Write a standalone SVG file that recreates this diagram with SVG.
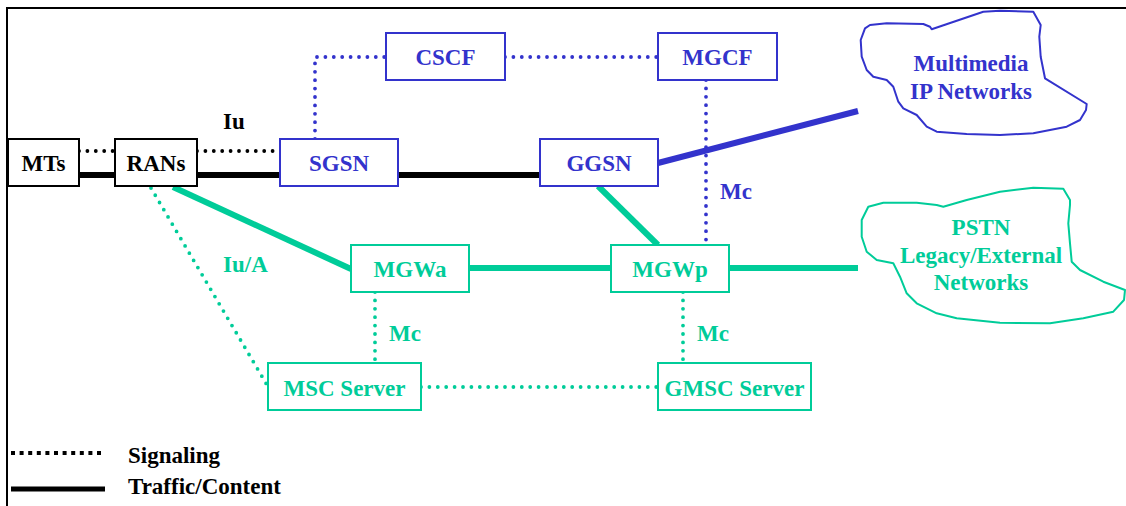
<svg xmlns="http://www.w3.org/2000/svg" width="1126" height="506" viewBox="0 0 1126 506">
<style>
text{font-family:"Liberation Serif","Times New Roman",serif;font-weight:bold;font-size:23px;text-anchor:middle}
.k{fill:#000}.b{fill:#3333CC}.g{fill:#00CC99}
.box{fill:#fff;stroke-width:2}
.bk{stroke:#000}.bb{stroke:#3333CC}.bg{stroke:#00CC99}
.dot{fill:none;stroke-width:3.8;stroke-dasharray:0 8.4;stroke-linecap:round}
.thick{fill:none;stroke-width:6}
.cloud{fill:#fff;stroke-width:2;stroke-linejoin:round}
.lab{text-anchor:start}
</style>
<rect x="0" y="0" width="1126" height="506" fill="#fff"/>
<path d="M7,506 V8 H1126" fill="none" stroke="#000" stroke-width="2"/>
<g id="connectors">
<line class="dot bk" x1="79" y1="151" x2="115" y2="151"/>
<line class="dot bk" x1="197" y1="151" x2="280" y2="151"/>
<line class="thick bk" x1="79" y1="175" x2="115" y2="175" stroke-width="5"/>
<line class="thick bk" x1="197" y1="175" x2="280" y2="175" stroke-width="5"/>
<line class="thick bk" x1="398" y1="175" x2="540" y2="175" stroke-width="5"/>
<polyline class="dot bb" points="315,139 315,57 386,57"/>
<line class="dot bb" x1="505" y1="57" x2="658" y2="57"/>
<line class="dot bb" x1="706" y1="80" x2="706" y2="244"/>
<line class="thick bb" x1="658" y1="163" x2="858" y2="111"/>
<line class="thick bg" x1="173" y1="187" x2="351" y2="269"/>
<line class="thick bg" x1="598" y1="186" x2="658" y2="245"/>
<line class="thick bg" x1="469" y1="268" x2="611" y2="268"/>
<line class="thick bg" x1="729" y1="268" x2="858" y2="268"/>
<line class="dot bg" x1="151" y1="188" x2="267" y2="385"/>
<line class="dot bg" x1="375" y1="292" x2="375" y2="363"/>
<line class="dot bg" x1="683" y1="292" x2="683" y2="363"/>
<line class="dot bg" x1="421" y1="387" x2="658" y2="387"/>
</g>
<g id="labels">
<text class="k lab" x="223" y="129">Iu</text>
<text class="g lab" x="223" y="272">Iu/A</text>
<text class="b lab" x="720" y="199">Mc</text>
<text class="g lab" x="389" y="341">Mc</text>
<text class="g lab" x="697" y="341">Mc</text>
</g>
<g id="MTs"><rect class="box bk" x="8" y="139" width="71" height="47"/><text class="k" x="43.5" y="171">MTs</text></g>
<g id="RANs"><rect class="box bk" x="115" y="139" width="82" height="47"/><text class="k" x="156" y="171">RANs</text></g>
<g id="SGSN"><rect class="box bb" x="280" y="139" width="118" height="47"/><text class="b" x="339" y="171">SGSN</text></g>
<g id="CSCF"><rect class="box bb" x="386" y="33" width="119" height="47"/><text class="b" x="445.5" y="65">CSCF</text></g>
<g id="MGCF"><rect class="box bb" x="658" y="33" width="119" height="47"/><text class="b" x="717.5" y="65">MGCF</text></g>
<g id="GGSN"><rect class="box bb" x="540" y="139" width="118" height="47"/><text class="b" x="599" y="171">GGSN</text></g>
<g id="MGWa"><rect class="box bg" x="351" y="245" width="118" height="47"/><text class="g" x="410" y="277">MGWa</text></g>
<g id="MGWp"><rect class="box bg" x="611" y="245" width="118" height="47"/><text class="g" x="670" y="277">MGWp</text></g>
<g id="MSCServer"><rect class="box bg" x="268" y="363" width="153" height="47"/><text class="g" x="344.5" y="396">MSC Server</text></g>
<g id="GMSCServer"><rect class="box bg" x="658" y="363" width="153" height="47"/><text class="g" x="734.5" y="396">GMSC Server</text></g>
<g id="MultimediaIP">
<path class="cloud bb" d="M931.7,29.3 L983.3,11.7 L1000,10.7 L1033.3,11.7 L1040.7,25 L1039.3,36.7 L1040.7,56.7 L1045,78.3 L1086.7,104 L1086,110 L1080,120 L1066.7,126.7 L1033.3,133.3 L1000,135 L966.7,134 L936.7,131.7 L926.7,126.7 L916.7,115 L903.3,108.3 L898.3,101.7 L893.3,86.7 L886.7,80 L873.3,76.7 L866.7,70 L861.7,56.7 L860.7,40 L865,28.3 L870,25 L886.7,23.3 L923.3,24 L930,26.7 Z"/>
<text class="b" x="971" y="71">Multimedia</text>
<text class="b" x="971" y="99">IP Networks</text>
</g>
<g id="PSTN">
<path class="cloud bg" d="M943.3,206.7 L966.7,200 L1000,191.7 L1033.3,187.7 L1063.3,188.7 L1070,200 L1070,205 L1068.3,223.3 L1070,243.3 L1071.7,261.7 L1080,270 L1103.3,281.7 L1125,290 L1124,300 L1113.3,311.7 L1083.3,318.3 L1050,323.3 L1000,322.7 L956.7,318.3 L936.7,313.3 L916.7,303.3 L906.7,293.3 L900,276.7 L893.3,263.3 L876.7,260 L866.7,251.7 L861.7,236.7 L861.7,220 L868.3,206.7 L883.3,202.7 L916.7,202.7 L936.7,205 Z"/>
<text class="g" x="981" y="235">PSTN</text>
<text class="g" x="981" y="263">Legacy/External</text>
<text class="g" x="981" y="290">Networks</text>
</g>
<g id="legend">
<line x1="11" y1="453" x2="105" y2="453" stroke="#000" stroke-width="4" stroke-dasharray="4 4.6"/>
<line x1="11" y1="489" x2="105" y2="489" stroke="#000" stroke-width="5"/>
<text class="k lab" x="128" y="463">Signaling</text>
<text class="k lab" x="128" y="494">Traffic/Content</text>
</g>
</svg>
